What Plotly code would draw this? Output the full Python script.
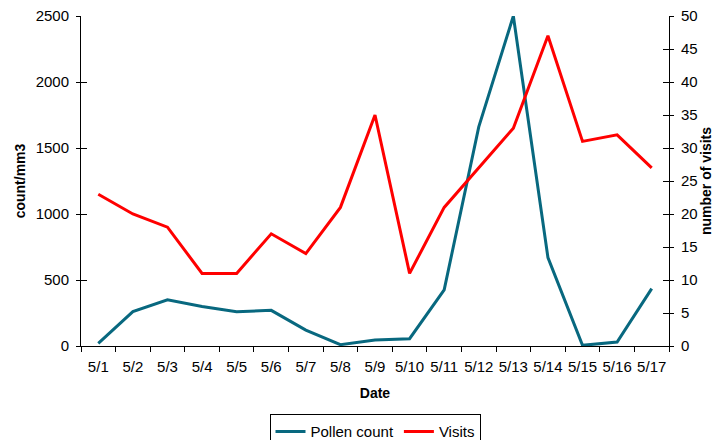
import plotly.graph_objects as go

dates = ["5/1", "5/2", "5/3", "5/4", "5/5", "5/6", "5/7", "5/8", "5/9", "5/10",
         "5/11", "5/12", "5/13", "5/14", "5/15", "5/16", "5/17"]
pollen = [20, 260, 350, 300, 260, 270, 120, 10, 45, 55, 425, 1660, 2500, 670, 5, 30, 435]
visits = [23, 20, 18, 11, 11, 17, 14, 21, 35, 11, 21, 27, 33, 47, 31, 32, 27]

teal = "#08687f"
red = "#ff0000"
font = "Liberation Sans, Arial, sans-serif"

fig = go.Figure()
fig.add_trace(go.Scatter(x=dates, y=pollen, name="Pollen count", mode="lines",
                         line=dict(color=teal, width=3)))
fig.add_trace(go.Scatter(x=dates, y=visits, name="Visits", mode="lines",
                         line=dict(color=red, width=3), yaxis="y2"))

common = dict(showline=True, linecolor="black", linewidth=1, tickcolor="black",
              showgrid=False, zeroline=False, automargin=False, tickfont=dict(size=15))

fig.update_layout(
    width=721, height=440,
    margin=dict(l=81, r=52, t=16, b=94, autoexpand=False),
    paper_bgcolor="white", plot_bgcolor="white",
    font=dict(family=font, size=15, color="black"),
    showlegend=True,
    legend=dict(orientation="h", x=0.5, xanchor="center", y=-0.207, yanchor="top",
                bordercolor="black", borderwidth=1, font=dict(size=15),
                itemwidth=30, tracegroupgap=0),
    xaxis=dict(type="category", range=[-0.5, 16.5], ticks="outside", ticklen=5,
               tickson="boundaries", ticklabelstandoff=7, tickangle=0,
               title=dict(text="<b>Date</b>", font=dict(size=14), standoff=14), **common),
    yaxis=dict(range=[0, 2500], dtick=500, ticks="outside", ticklen=4,
               ticklabelstandoff=4,
               title=dict(text="<b>count/mm3</b>", font=dict(size=14), standoff=6), **common),
    yaxis2=dict(range=[0, 50], dtick=5, overlaying="y", side="right", ticks="outside",
                ticklen=4, ticklabelstandoff=4,
                title=dict(text="<b>number of visits</b>", font=dict(size=14), standoff=2),
                **common),
    yaxis3=dict(range=[0, 2500], dtick=500, overlaying="y", side="left", ticks="inside",
                ticklen=6, tickcolor="black", showticklabels=False, showline=False,
                showgrid=False, zeroline=False, automargin=False),
    yaxis4=dict(range=[0, 50], dtick=5, overlaying="y", side="right", ticks="inside",
                ticklen=6, tickcolor="black", showticklabels=False, showline=False,
                showgrid=False, zeroline=False, automargin=False),
)
# invisible helper traces so the inner tick axes render
fig.add_trace(go.Scatter(x=dates[:1], y=[None], yaxis="y3", showlegend=False, hoverinfo="skip"))
fig.add_trace(go.Scatter(x=dates[:1], y=[None], yaxis="y4", showlegend=False, hoverinfo="skip"))

fig.write_html("out.html", config={"displayModeBar": False},
               post_script="document.body.style.margin='0';document.body.style.overflow='hidden';")
